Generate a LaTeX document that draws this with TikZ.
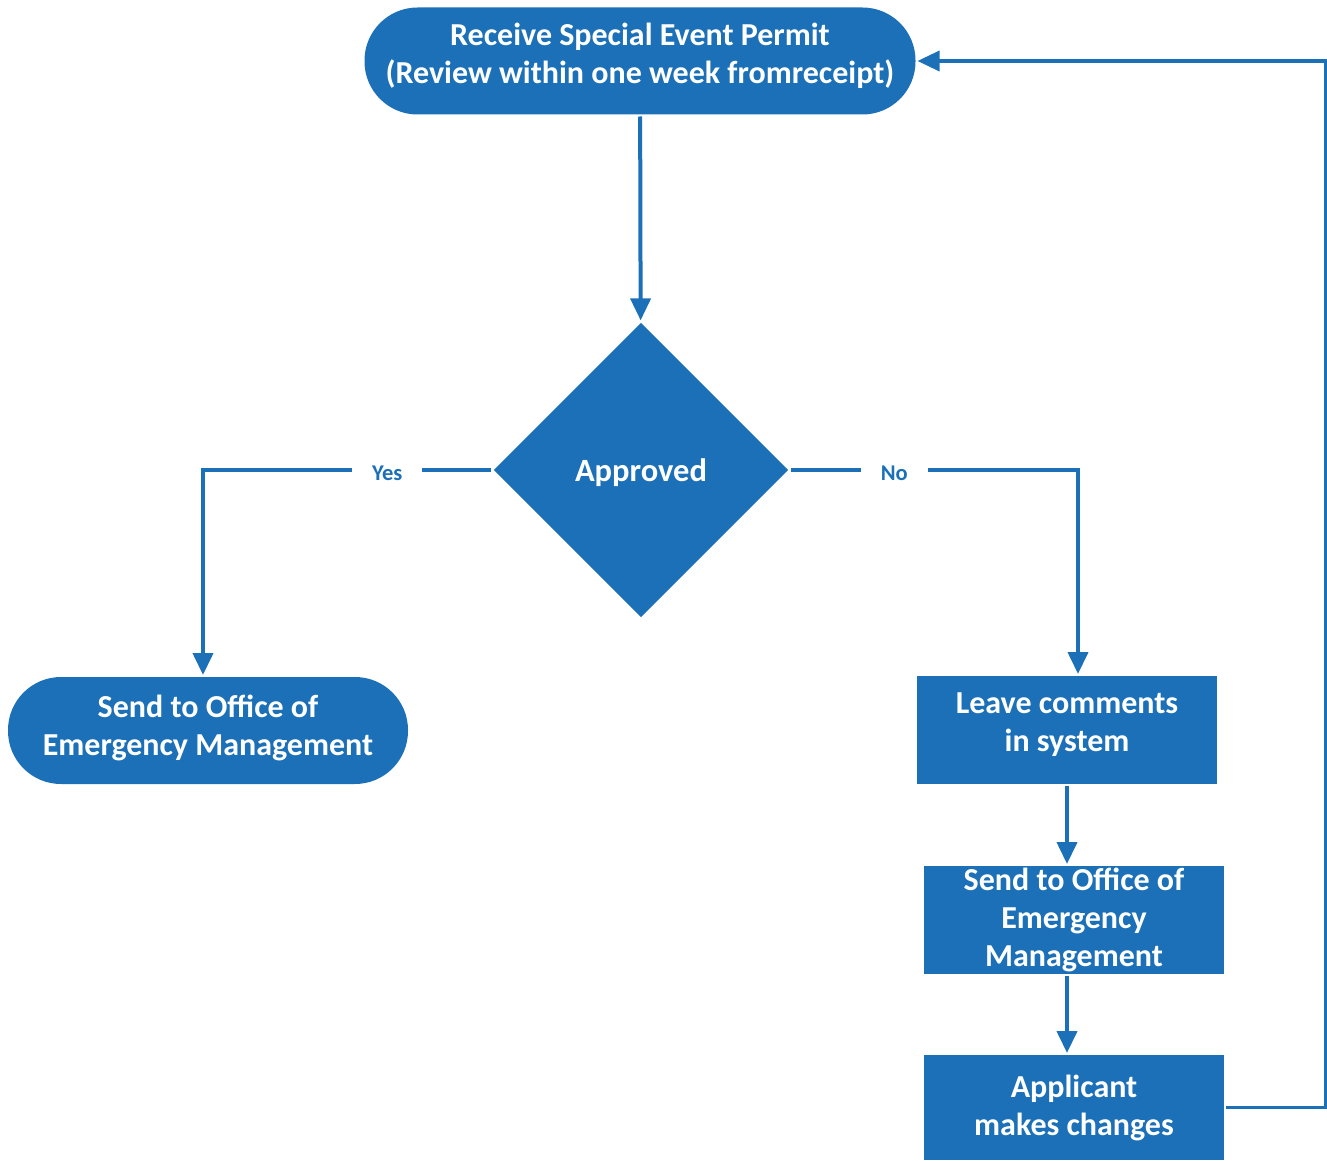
\documentclass[tikz,border=0pt]{standalone}
\usepackage{fontspec}
\setmainfont{Carlito}
\usetikzlibrary{arrows.meta,shapes.geometric}
\definecolor{flowblue}{HTML}{1B70B8}

\begin{document}
\begin{tikzpicture}[x=1pt, y=-1pt, every path/.style={line width=4pt}]

        \tikzset{terminal/.style = {shape=rectangle, rounded corners=53pt, fill=flowblue, text=white, minimum width=551pt, minimum height=107pt, inner sep=0pt, align=center, text depth=16pt, font=\bfseries\fontsize{32}{38}\selectfont}}
        \tikzset{decision/.style = {shape=diamond, fill=flowblue, text=white, minimum width=296pt, minimum height=296pt, inner sep=0pt, text depth=0pt, font=\bfseries\fontsize{32.5}{38}\selectfont}}
        \tikzset{process/.style = {shape=rectangle, fill=flowblue, text=white, minimum width=300pt, minimum height=108pt, inner sep=0pt, align=center, font=\bfseries\fontsize{32}{38}\selectfont}}
        \tikzset{arr/.style = {draw=flowblue, -{Triangle[length=22pt, width=20pt]}}}
        \tikzset{lbl/.style = {fill=white, text=flowblue, inner xsep=20pt, inner ysep=2pt, yshift=-3pt, font=\bfseries\fontsize{22.5}{26}\selectfont}}

        \useasboundingbox (0,0) rectangle (1327,1161);

        \node[terminal] (permit) at (640,61) {Receive Special Event Permit\\(Review within one week fromreceipt)};
        \node[decision] (approved) at (641,470) {Approved};
        \node[terminal, minimum width=400pt, text depth=10pt] (sendyes) at (208,730.5) {Send to Office of\\Emergency Management};
        \node[process, text depth=15pt] (comments) at (1067,730) {Leave comments\\in system};
        \node[process] (sendno) at (1074,920) {Send to Office of\\Emergency\\Management};
        \node[process, minimum height=105pt] (applicant) at (1074,1107.5) {Applicant\\makes changes};

        \draw[arr] (permit) -- (approved);
        \draw[arr] (approved.west) -| node[lbl, pos=0.18] {Yes} ([xshift=-5pt]sendyes.north);
        \draw[arr] (approved.east) -| node[lbl, pos=0.18] {No} ([xshift=11pt]comments.north);
        \draw[arr] (comments.south) -- (comments.south |- sendno.north);
        \draw[arr] (comments.south |- sendno.south) -- (comments.south |- applicant.north);

        % back to the start
        \draw[arr, line width=3.5pt] (applicant.east) -- ++(100,0) |- (permit.east);
	\end{tikzpicture}
\end{document}
